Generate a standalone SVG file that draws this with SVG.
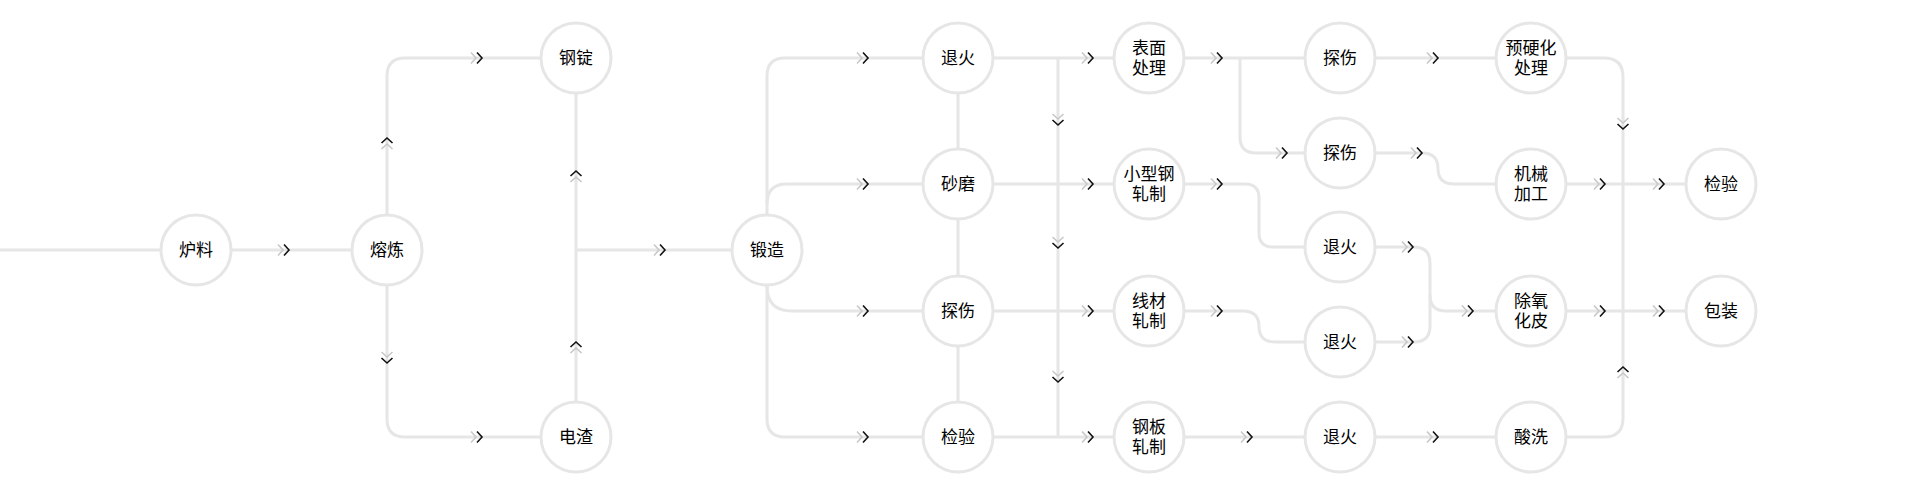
<svg xmlns="http://www.w3.org/2000/svg" xmlns:xlink="http://www.w3.org/1999/xlink" width="1919" height="496" viewBox="0 0 1919 496">
<style>
.ln{fill:none;stroke:#e6e6e6;stroke-width:3}
.nd circle{fill:#fff;stroke:#e6e6e6;stroke-width:3}
.nd text{font-family:"Liberation Sans","Noto Sans CJK SC",sans-serif;font-size:17px;fill:#000;text-anchor:middle;dominant-baseline:central}
.cl{fill:none;stroke:#c8c8c8;stroke-width:1.6}
.cd{fill:none;stroke:#111;stroke-width:1.6}
</style>
<defs>
<g id="ar"><polyline class="cl" points="-11,-5.5 -6,0 -11,5.5"/><polyline class="cd" points="-5,-5.5 0,0 -5,5.5"/></g>
</defs>
<rect width="1919" height="496" fill="#fff"/>
<g id="connectors">
<path class="ln" d="M0 250 H387"/>
<path class="ln" d="M576 250 H767"/>
<path class="ln" d="M387 250 V76 Q387 58 405 58 H576"/>
<path class="ln" d="M387 250 V419 Q387 437 405 437 H576"/>
<path class="ln" d="M576 58 V437"/>
<path class="ln" d="M958 58 H785 Q767 58 767 76 V419 Q767 437 785 437 H958"/>
<path class="ln" d="M767 204 Q767 184 787 184 H958"/>
<path class="ln" d="M767 286 Q767 311 792 311 H958"/>
<path class="ln" d="M958 58 V437"/>
<path class="ln" d="M958 58 H1149 M958 184 H1149 M958 311 H1149 M958 437 H1149"/>
<path class="ln" d="M1058 58 V437"/>
<path class="ln" d="M1149 58 H1531"/>
<path class="ln" d="M1240 58 V137 Q1240 153 1256 153 H1340"/>
<path class="ln" d="M1149 184 H1245 Q1259 184 1259 198 V233 Q1259 247 1273 247 H1340"/>
<path class="ln" d="M1149 311 H1243 Q1259 311 1259 326.5 Q1259 342 1275 342 H1340"/>
<path class="ln" d="M1149 437 H1531"/>
<path class="ln" d="M1340 153 H1422 Q1438 153 1438 168.5 Q1438 184 1454 184 H1721"/>
<path class="ln" d="M1340 247 H1414 Q1430 247 1430 263 V326 Q1430 342 1414 342 H1340"/>
<path class="ln" d="M1430 295 Q1430 311 1446 311 H1721"/>
<path class="ln" d="M1531 58 H1604 Q1623 58 1623 77 V418 Q1623 437 1604 437 H1531"/>
<g id="arrows">
<use xlink:href="#ar" transform="translate(289,250)"/>
<use xlink:href="#ar" transform="translate(482,58)"/>
<use xlink:href="#ar" transform="translate(482,437)"/>
<use xlink:href="#ar" transform="translate(665,250)"/>
<use xlink:href="#ar" transform="translate(868,58)"/>
<use xlink:href="#ar" transform="translate(868,184)"/>
<use xlink:href="#ar" transform="translate(868,311)"/>
<use xlink:href="#ar" transform="translate(868,437)"/>
<use xlink:href="#ar" transform="translate(1093,58)"/>
<use xlink:href="#ar" transform="translate(1093,184)"/>
<use xlink:href="#ar" transform="translate(1093,311)"/>
<use xlink:href="#ar" transform="translate(1093,437)"/>
<use xlink:href="#ar" transform="translate(1222,58)"/>
<use xlink:href="#ar" transform="translate(1222,184)"/>
<use xlink:href="#ar" transform="translate(1222,311)"/>
<use xlink:href="#ar" transform="translate(1252,437)"/>
<use xlink:href="#ar" transform="translate(1287,153)"/>
<use xlink:href="#ar" transform="translate(1438,58)"/>
<use xlink:href="#ar" transform="translate(1422,153)"/>
<use xlink:href="#ar" transform="translate(1413,247)"/>
<use xlink:href="#ar" transform="translate(1413,342)"/>
<use xlink:href="#ar" transform="translate(1473,311)"/>
<use xlink:href="#ar" transform="translate(1438,437)"/>
<use xlink:href="#ar" transform="translate(1605,184)"/>
<use xlink:href="#ar" transform="translate(1664,184)"/>
<use xlink:href="#ar" transform="translate(1605,311)"/>
<use xlink:href="#ar" transform="translate(1664,311)"/>
<use xlink:href="#ar" transform="translate(387,138) rotate(-90)"/>
<use xlink:href="#ar" transform="translate(576,171) rotate(-90)"/>
<use xlink:href="#ar" transform="translate(576,342) rotate(-90)"/>
<use xlink:href="#ar" transform="translate(1623,367) rotate(-90)"/>
<use xlink:href="#ar" transform="translate(387,363) rotate(90)"/>
<use xlink:href="#ar" transform="translate(1058,125) rotate(90)"/>
<use xlink:href="#ar" transform="translate(1058,248) rotate(90)"/>
<use xlink:href="#ar" transform="translate(1058,382) rotate(90)"/>
<use xlink:href="#ar" transform="translate(1623,129) rotate(90)"/>
</g>
</g>
<g id="n1" class="nd"><circle cx="196" cy="250" r="35"/><text x="196" y="250">炉料</text></g>
<g id="n2" class="nd"><circle cx="387" cy="250" r="35"/><text x="387" y="250">熔炼</text></g>
<g id="n3" class="nd"><circle cx="576" cy="58" r="35"/><text x="576" y="58">钢锭</text></g>
<g id="n4" class="nd"><circle cx="576" cy="437" r="35"/><text x="576" y="437">电渣</text></g>
<g id="n5" class="nd"><circle cx="767" cy="250" r="35"/><text x="767" y="250">锻造</text></g>
<g id="n6" class="nd"><circle cx="958" cy="58" r="35"/><text x="958" y="58">退火</text></g>
<g id="n7" class="nd"><circle cx="958" cy="184" r="35"/><text x="958" y="184">砂磨</text></g>
<g id="n8" class="nd"><circle cx="958" cy="311" r="35"/><text x="958" y="311">探伤</text></g>
<g id="n9" class="nd"><circle cx="958" cy="437" r="35"/><text x="958" y="437">检验</text></g>
<g id="n10" class="nd"><circle cx="1149" cy="58" r="35"/><text x="1149" y="48.25">表面<tspan x="1149" dy="19.5">处理</tspan></text></g>
<g id="n11" class="nd"><circle cx="1149" cy="184" r="35"/><text x="1149" y="174.25">小型钢<tspan x="1149" dy="19.5">轧制</tspan></text></g>
<g id="n12" class="nd"><circle cx="1149" cy="311" r="35"/><text x="1149" y="301.25">线材<tspan x="1149" dy="19.5">轧制</tspan></text></g>
<g id="n13" class="nd"><circle cx="1149" cy="437" r="35"/><text x="1149" y="427.25">钢板<tspan x="1149" dy="19.5">轧制</tspan></text></g>
<g id="n14" class="nd"><circle cx="1340" cy="58" r="35"/><text x="1340" y="58">探伤</text></g>
<g id="n15" class="nd"><circle cx="1340" cy="153" r="35"/><text x="1340" y="153">探伤</text></g>
<g id="n16" class="nd"><circle cx="1340" cy="247" r="35"/><text x="1340" y="247">退火</text></g>
<g id="n17" class="nd"><circle cx="1340" cy="342" r="35"/><text x="1340" y="342">退火</text></g>
<g id="n18" class="nd"><circle cx="1340" cy="437" r="35"/><text x="1340" y="437">退火</text></g>
<g id="n19" class="nd"><circle cx="1531" cy="58" r="35"/><text x="1531" y="48.25">预硬化<tspan x="1531" dy="19.5">处理</tspan></text></g>
<g id="n20" class="nd"><circle cx="1531" cy="184" r="35"/><text x="1531" y="174.25">机械<tspan x="1531" dy="19.5">加工</tspan></text></g>
<g id="n21" class="nd"><circle cx="1531" cy="311" r="35"/><text x="1531" y="301.25">除氧<tspan x="1531" dy="19.5">化皮</tspan></text></g>
<g id="n22" class="nd"><circle cx="1531" cy="437" r="35"/><text x="1531" y="437">酸洗</text></g>
<g id="n23" class="nd"><circle cx="1721" cy="184" r="35"/><text x="1721" y="184">检验</text></g>
<g id="n24" class="nd"><circle cx="1721" cy="311" r="35"/><text x="1721" y="311">包装</text></g>
</svg>
